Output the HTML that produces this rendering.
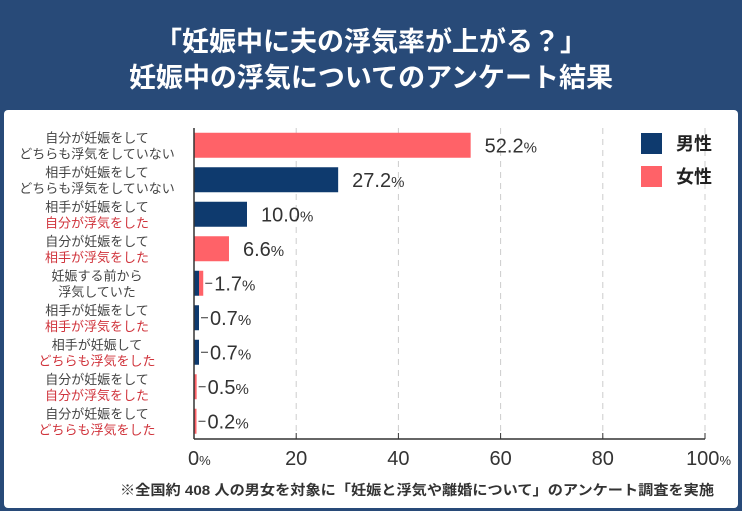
<!DOCTYPE html>
<html><head><meta charset="utf-8"><style>
body{margin:0;width:742px;height:511px;background:#284a78;font-family:"Liberation Sans","Noto Sans CJK JP",sans-serif;overflow:hidden;position:relative}
.title{position:absolute;left:0;width:742px;text-align:center;color:#fff;font-weight:bold;font-size:27px;font-family:"Liberation Sans","Noto Sans CJK JP",sans-serif}
#panel{position:absolute;left:4px;top:110px;width:734px;height:398px;background:#fff;border-radius:4px}
svg{position:absolute;left:0;top:0}
</style></head><body>
<div class="title" style="top:20px">「妊娠中に夫の浮気率が上がる？」</div>
<div class="title" style="top:56px">妊娠中の浮気についてのアンケート結果</div>
<div id="panel"></div>
<svg id="chart" width="742" height="511"></svg>
<script>
const line1=["自分が妊娠をして","相手が妊娠をして","相手が妊娠をして","自分が妊娠をして","妊娠する前から","相手が妊娠をして","相手が妊娠して","自分が妊娠をして","自分が妊娠をして"];
const line2=["どちらも浮気をしていない","どちらも浮気をしていない","自分が浮気をした","相手が浮気をした","浮気していた","相手が浮気をした","どちらも浮気をした","自分が浮気をした","どちらも浮気をした"];
const line2Red=[false,false,true,true,false,true,true,true,true];
const maleVals=[0,27.2,10.0,0,0.9,0.7,0.7,0,0];
const femaleVals=[52.2,0,0,6.6,0.8,0,0,0.5,0.2];
const valueLabels=["52.2","27.2","10.0","6.6","1.7","0.7","0.7","0.5","0.2"];
const ticks=[0,20,40,60,80,100];
const NS="http://www.w3.org/2000/svg";
const svg=document.getElementById('chart');
const X0=194,X1=705,Y0=128,ROW=34.5,BH=25,AXY=439;
const xs=v=>X0+(X1-X0)*v/100;
const xb=v=>X0+5.3*v;
const yc=i=>Y0+ROW*(i+0.5);
function mk(t,a,txt){const e=document.createElementNS(NS,t);for(const k in a)e.setAttribute(k,a[k]);if(txt!=null)e.textContent=txt;svg.appendChild(e);return e;}
ticks.forEach((t,i)=>{
 if(t>0){const g=mk('line',{x1:xs(t),x2:xs(t),y1:Y0,y2:AXY,stroke:'#ccc','stroke-dasharray':'6,5'});
 
 }
 const tk=mk('line',{x1:xs(t),x2:xs(t),y1:AXY-6,y2:AXY,stroke:'#333'});
 
 
 const l=mk('text',{x:xs(t),y:AXY+26,'text-anchor':(i==0?'start':i==ticks.length-1?'end':'middle'),'font-size':20,fill:'#333'});
 l.innerHTML=(i==0||i==ticks.length-1)?t+'<tspan font-size="13">%</tspan>':t;
 if(i==0)l.setAttribute('x',xs(t)-6);
 if(i==ticks.length-1)l.setAttribute('x',xs(t)+26);
 
 
});
line1.forEach((s,i)=>{
 const y=yc(i);
 const a=mk('text',{x:97,y:y-3,'text-anchor':'middle','font-size':13,fill:'#444'},s);
 
 
 const b=mk('text',{x:97,y:y+13,'text-anchor':'middle','font-size':13,fill:line2Red[i]?'#d0343c':'#444'},line2[i]);
 
 
 let x=X0;
 if(maleVals[i]>0){const w=Math.max(xb(maleVals[i])-X0,5);const r=mk('rect',{x:x,y:y-BH/2,width:w,height:BH,fill:'#0e3a6e'});
  
  x+=w;}
 if(femaleVals[i]>0){const w=Math.max(xb(femaleVals[i])-X0,2.5);const r=mk('rect',{x:x,y:y-BH/2,width:w,height:BH,fill:'#ff6268'});
  
  x+=w;}
 let lx;
 if(x-X0<20){const ld=mk('line',{x1:x+2,x2:x+9,y1:y,y2:y,stroke:'#333'});
  
  lx=x+11;}
 else lx=x+14;
 const v=mk('text',{x:lx,y:y+7,'font-size':20,fill:'#333'});
 v.innerHTML=valueLabels[i]+'<tspan font-size="15">%</tspan>';
 
 
});
const ax=mk('line',{x1:X0,x2:X0,y1:Y0,y2:AXY,stroke:'#333','stroke-width':1.5});


const bx=mk('line',{x1:X0,x2:X1,y1:AXY,y2:AXY,stroke:'#333','stroke-width':1.5});


[['男性','#0e3a6e',143],['女性','#ff6268',176]].forEach(([n,c,y])=>{
 const r=mk('rect',{x:641,y:y-10,width:21,height:21,fill:c});
 
 
 const t=mk('text',{x:676,y:y+7,'font-size':18,'font-weight':'bold',fill:'#222'},n);
 
 
});
const fn=mk('text',{x:714,y:495,'text-anchor':'end','font-size':14,'font-weight':'bold',fill:'#333',textLength:594,lengthAdjust:'spacingAndGlyphs'},'※全国約 408 人の男女を対象に「妊娠と浮気や離婚について」のアンケート調査を実施');


</script>
</body></html>
